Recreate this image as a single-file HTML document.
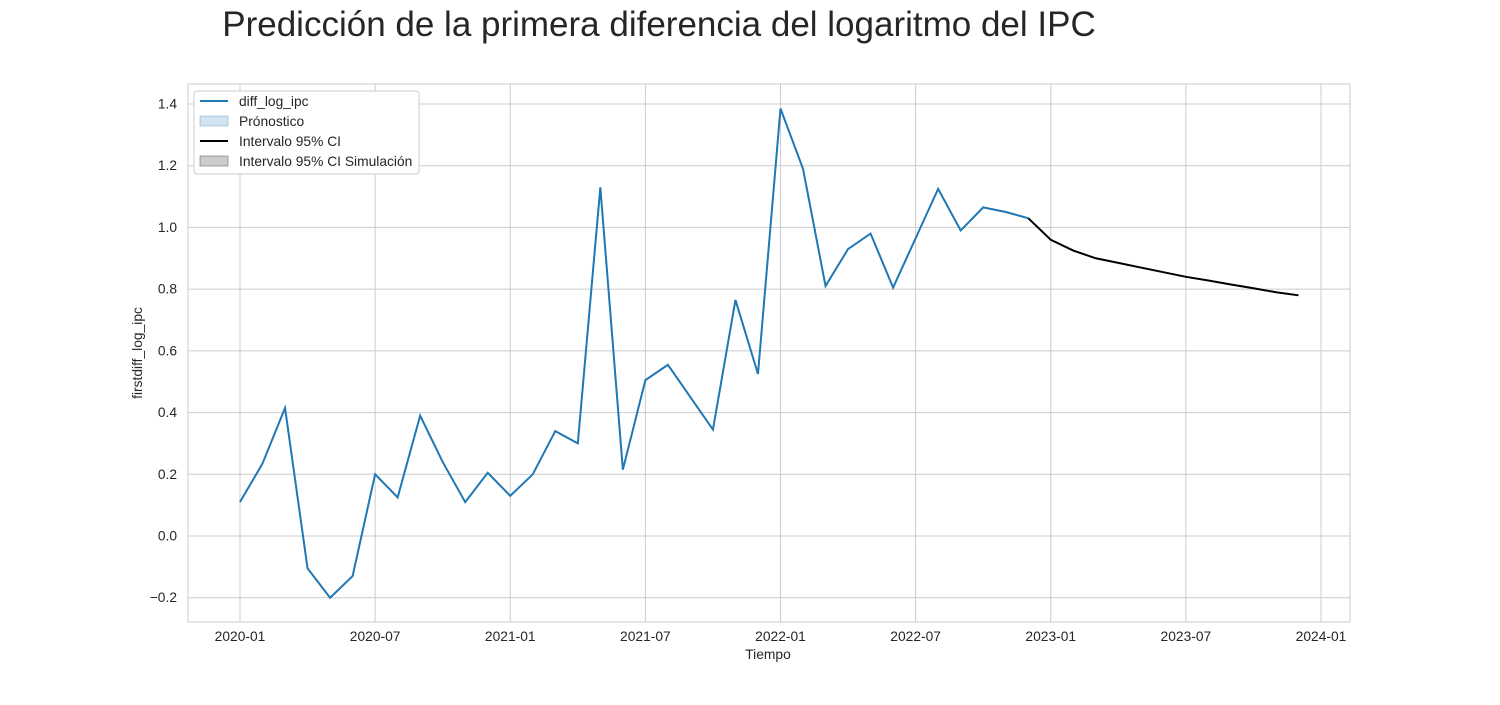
<!DOCTYPE html>
<html><head><meta charset="utf-8"><style>
body{margin:0;background:#fff;font-family:"Liberation Sans",Arial,sans-serif}
svg text{font-family:"Liberation Sans",Arial,sans-serif;fill:#262626}
</style></head><body>
<svg id="chart" width="1500" height="700">
<text x="659" y="36" font-size="35" text-anchor="middle">Predicción de la primera diferencia del logaritmo del IPC</text>
<rect x="188" y="84" width="1162" height="538" fill="#fff" stroke="#cccccc"/>
<g id="grid"></g><g id="series"></g>
<text x="768" y="659" font-size="13.8" text-anchor="middle">Tiempo</text>
<text transform="translate(142,353) rotate(-90)" font-size="13.8" text-anchor="middle">firstdiff_log_ipc</text>
<g>
<rect x="194" y="91" width="225" height="83" rx="3" fill="#fff" stroke="#cccccc"/>
<line x1="200" y1="101" x2="228" y2="101" stroke="#1f77b4" stroke-width="2"/>
<text x="239" y="106" font-size="13.8">diff_log_ipc</text>
<rect x="200" y="116" width="28" height="10" fill="#1f77b4" fill-opacity="0.2" stroke="#1f77b4" stroke-opacity="0.3"/>
<text x="239" y="126" font-size="13.8">Prónostico</text>
<line x1="200" y1="141" x2="228" y2="141" stroke="#000" stroke-width="2"/>
<text x="239" y="146" font-size="13.8">Intervalo 95% CI</text>
<rect x="200" y="156" width="28" height="10" fill="#000" fill-opacity="0.2" stroke="#555" stroke-opacity="0.5"/>
<text x="239" y="166" font-size="13.8">Intervalo 95% CI Simulación</text>
</g>
</svg>
<script>
const histValues=[0.11,0.235,0.415,-0.105,-0.20,-0.13,0.20,0.125,0.39,0.24,0.11,0.205,
0.13,0.20,0.34,0.30,1.13,0.215,0.505,0.555,0.45,0.345,0.765,0.525,
1.385,1.19,0.81,0.93,0.98,0.805,0.965,1.125,0.99,1.065,1.05,1.03];
const fcstValues=[1.03,0.96,0.925,0.90,0.885,0.87,0.855,0.84,0.828,0.815,0.803,0.79,0.78];
const fcstStart=35;
const yTicks=[-0.2,0,0.2,0.4,0.6,0.8,1.0,1.2,1.4];
const xTickMonths=[0,6,12,18,24,30,36,42,48];
const xTickLabels=["2020-01","2020-07","2021-01","2021-07","2022-01","2022-07","2023-01","2023-07","2024-01"];
const X=m=>240+m*(1321-240)/48;
const Y=v=>536-v*(536-104)/1.4;
const NS="http://www.w3.org/2000/svg";
const grid=document.getElementById('grid'),ser=document.getElementById('series');
function mk(t,a,p){const e=document.createElementNS(NS,t);for(const k in a)e.setAttribute(k,a[k]);p.appendChild(e);return e;}
yTicks.forEach(v=>{
 const l=mk('line',{x1:188,x2:1350,y1:Y(v),y2:Y(v),stroke:'#cccccc'},grid);
 
 
 const t=mk('text',{x:177,y:Y(v)+4.5,'font-size':13.8,'text-anchor':'end'},grid);
 t.textContent=v.toFixed(1).replace('-','−');
 
 
});
xTickMonths.forEach((m,i)=>{
 const l=mk('line',{x1:X(m),x2:X(m),y1:84,y2:622,stroke:'#cccccc'},grid);
 
 
 const t=mk('text',{x:X(m),y:641,'font-size':13.8,'text-anchor':'middle'},grid);
 t.textContent=xTickLabels[i];
 
 
});
const h=mk('polyline',{points:histValues.map((v,i)=>X(i)+','+Y(v)).join(' '),fill:'none',stroke:'#1f77b4','stroke-width':2},ser);


const f=mk('polyline',{points:fcstValues.map((v,i)=>X(fcstStart+i)+','+Y(v)).join(' '),fill:'none',stroke:'#000','stroke-width':2},ser);


</script>
</body></html>
